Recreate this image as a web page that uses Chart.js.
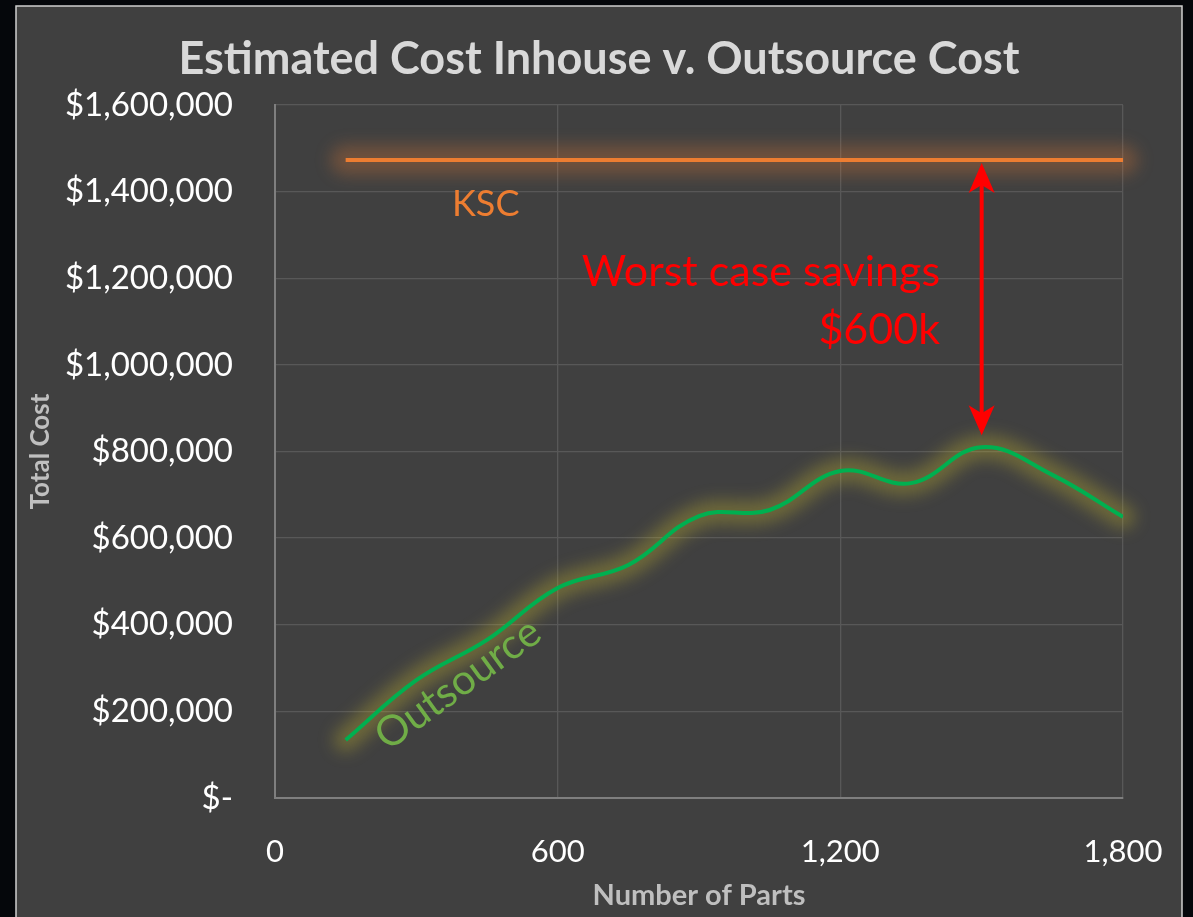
<!DOCTYPE html>
<html>
<head>
<meta charset="utf-8">
<script src="https://cdn.jsdelivr.net/npm/chart.js@4.4.1/dist/chart.umd.min.js"></script>
<style>
  html, body { margin: 0; padding: 0; background: #05070b; }
  #wrap { width: 1193px; height: 917px; }
</style>
</head>
<body>
<div id="wrap"><canvas id="myChart"></canvas></div>
<script>
const parts = [150, 300, 450, 600, 750, 900, 1050, 1200, 1350, 1500, 1650, 1800];
const outsourceCost = [134000, 272000, 365000, 485000, 538000, 651000, 665000, 755000, 727000, 810000, 746000, 649000];
const kscParts = [150, 1800];
const kscCost = [1473000, 1473000];
const xTicks = [0, 600, 1200, 1800];
const yTicks = [0, 200000, 400000, 600000, 800000, 1000000, 1200000, 1400000, 1600000];

const FONT = "Lato, 'Open Sans', sans-serif";

// dark panel, border and chart title
const panelBg = {
  id: 'panelBg',
  beforeDraw(chart) {
    const c = chart.ctx;
    c.save();
    c.fillStyle = '#05070b';
    c.fillRect(0, 0, chart.width, chart.height);
    c.fillStyle = '#404040';
    c.fillRect(16, 6, 1166, 930);
    c.strokeStyle = '#d0d0d0';
    c.lineWidth = 1.5;
    c.strokeRect(16, 6, 1166, 930);
    c.font = 'bold 45px ' + FONT;
    c.fillStyle = '#d9d9d9';
    c.textAlign = 'center';
    c.textBaseline = 'middle';
    c.fillText('Estimated Cost Inhouse v. Outsource Cost', 599, 59);
    c.restore();
  }
};

// soft glow under each line
const glowColors = ['rgba(237,125,49,0.28)', 'rgba(205,190,45,0.32)'];
const glowWidths = [30, 24];
const glow = {
  id: 'glow',
  beforeDatasetsDraw(chart) {
    const c = chart.ctx;
    chart.data.datasets.forEach((ds, i) => {
      const line = chart.getDatasetMeta(i).dataset;
      line.updateControlPoints(chart.chartArea);
      c.save();
      c.filter = 'blur(8px)';
      c.strokeStyle = glowColors[i];
      c.lineWidth = glowWidths[i];
      c.lineCap = 'round';
      c.lineJoin = 'round';
      c.beginPath();
      line.path(c);
      c.stroke();
      c.restore();
    });
  }
};

// labels and the savings arrow
const notes = {
  id: 'notes',
  afterDatasetsDraw(chart) {
    const c = chart.ctx;
    const xs = chart.scales.x, ys = chart.scales.y;
    c.save();
    c.textBaseline = 'middle';

    c.font = '36px ' + FONT;
    c.fillStyle = '#ed7d31';
    c.textAlign = 'left';
    c.fillText('KSC', 452, 204);

    c.font = '43px ' + FONT;
    c.fillStyle = '#ff0000';
    c.textAlign = 'right';
    c.fillText('Worst case savings', 940, 272);
    c.fillText('$600k', 940, 330);

    c.save();
    c.translate(458, 684);
    c.rotate(-36 * Math.PI / 180);
    c.font = '42px ' + FONT;
    c.fillStyle = '#70ad47';
    c.textAlign = 'center';
    c.fillText('Outsource', 0, 0);
    c.restore();

    // double headed arrow
    const ax = xs.getPixelForValue(1500);
    const top = ys.getPixelForValue(kscCost[0]) + 3;
    const bot = ys.getPixelForValue(Math.max(...outsourceCost)) - 12;
    c.strokeStyle = '#ff0000';
    c.fillStyle = '#ff0000';
    c.lineWidth = 4;
    c.beginPath();
    c.moveTo(ax, top + 20);
    c.lineTo(ax, bot - 20);
    c.stroke();
    c.beginPath();
    c.moveTo(ax, top);
    c.lineTo(ax - 13, top + 30);
    c.lineTo(ax, top + 22);
    c.lineTo(ax + 13, top + 30);
    c.closePath();
    c.fill();
    c.beginPath();
    c.moveTo(ax, bot);
    c.lineTo(ax - 13, bot - 30);
    c.lineTo(ax, bot - 22);
    c.lineTo(ax + 13, bot - 30);
    c.closePath();
    c.fill();
    c.restore();
  }
};

const ctx = document.getElementById('myChart');

new Chart(ctx, {
  type: 'line',
  data: {
    datasets: [
      {
        label: 'KSC',
        data: kscParts.map((x, i) => ({ x: x, y: kscCost[i] })),
        borderColor: '#ed7d31',
        borderWidth: 4,
        pointRadius: 0,
        tension: 0
      },
      {
        label: 'Outsource',
        data: parts.map((x, i) => ({ x: x, y: outsourceCost[i] })),
        borderColor: '#00b050',
        borderWidth: 4,
        pointRadius: 0,
        tension: 0.4
      }
    ]
  },
  options: {
    responsive: true,
    maintainAspectRatio: false,
    animation: false,
    layout: { padding: { left: 16, top: 105, right: 70, bottom: 0 } },
    scales: {
      x: {
        type: 'linear',
        min: 0,
        max: 1800,
        afterBuildTicks: (s) => { s.ticks = xTicks.map(v => ({ value: v })); },
        afterFit: (s) => { s.height = 119; s.paddingLeft = 0; s.paddingRight = 0; },
        grid: { color: '#585858', lineWidth: 1.3, drawTicks: false },
        border: { color: '#7f7f7f', width: 2 },
        ticks: {
          color: '#ffffff',
          font: { size: 31, family: FONT },
          padding: 35,
          callback: (v) => v.toLocaleString('en-US')
        },
        title: {
          display: true,
          text: 'Number of Parts',
          color: '#bfbfbf',
          font: { size: 29, weight: 'bold', family: FONT },
          padding: { top: 0, bottom: 4 }
        }
      },
      y: {
        min: 0,
        max: 1600000,
        afterBuildTicks: (s) => { s.ticks = yTicks.map(v => ({ value: v })); },
        afterFit: (s) => { s.width = 259; },
        grid: { color: '#585858', lineWidth: 1.3, drawTicks: false },
        border: { color: '#7f7f7f', width: 2 },
        ticks: {
          color: '#ffffff',
          font: { size: 33, family: FONT },
          padding: 42,
          callback: (v) => v === 0 ? '$-' : '$' + v.toLocaleString('en-US')
        },
        title: {
          display: true,
          text: 'Total Cost',
          color: '#bfbfbf',
          font: { size: 26, weight: 'bold', family: FONT },
          padding: { top: 9, bottom: 0 }
        }
      }
    },
    plugins: {
      legend: { display: false },
      tooltip: { enabled: false },
      title: { display: false }
    }
  },
  plugins: [panelBg, glow, notes]
});
</script>
</body>
</html>
